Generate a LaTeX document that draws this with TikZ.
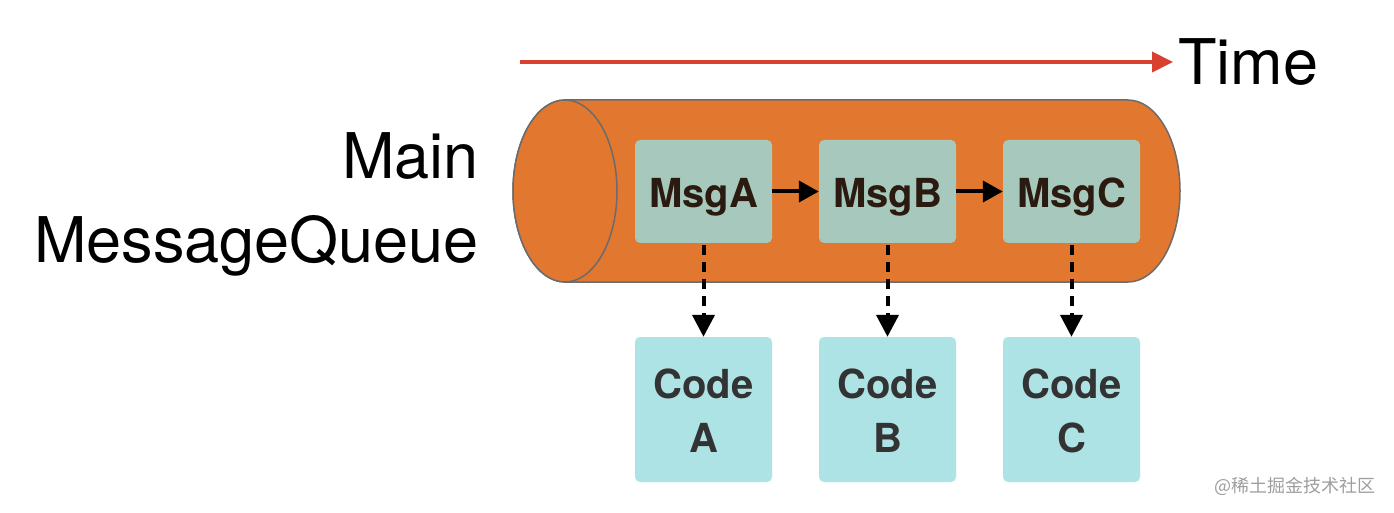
\documentclass[tikz,border=0pt]{standalone}
\usepackage{fontspec}
\setmainfont{TeX Gyre Heros}
\newfontfamily\cjkfont{Noto Sans CJK SC}
\usetikzlibrary{arrows.meta}
\definecolor{cylorange}{HTML}{E2782F}
\definecolor{cylline}{HTML}{6B6B6B}
\definecolor{msgfill}{HTML}{A7C9BD}
\definecolor{codefill}{HTML}{AEE3E6}
\definecolor{msgtext}{HTML}{2B1A10}
\definecolor{codetext}{HTML}{333333}
\definecolor{timered}{HTML}{D94030}
\tikzset{
  cyl/.style={fill=cylorange, draw=cylline, line width=1.5pt},
  msgbox/.style={fill=msgfill, rounded corners=5pt, minimum width=137pt, minimum height=103pt,
    inner sep=0pt, text=msgtext, font=\fontsize{40}{48}\selectfont\bfseries,
    text height=33pt, text depth=0pt},
  codebox/.style={fill=codefill, rounded corners=5pt, minimum width=137pt, minimum height=145pt,
    inner sep=0pt, text=codetext, font=\fontsize{40}{54}\selectfont\bfseries, align=center,
    text height=85pt, text depth=0pt},
  bigtext/.style={inner sep=0pt, font=\fontsize{63}{84}\selectfont},
  flowarrow/.style={line width=4pt, -{Triangle[length=20pt,width=21pt]}},
  callarrow/.style={line width=4pt, dash pattern=on 10pt off 7pt, -{Triangle[length=22pt,width=22pt]}},
  timearrow/.style={draw=timered, line width=4pt, -{Triangle[length=21pt,width=20pt]}, color=timered},
}
\begin{document}
\begin{tikzpicture}[x=1pt,y=1pt]
\useasboundingbox (0,0) rectangle (1394,512);
% cylinder
\path[cyl] (565,412) -- (1128,412)
  arc[start angle=90, end angle=-90, x radius=52pt, y radius=91pt]
  -- (565,230)
  arc[start angle=270, end angle=90, x radius=52pt, y radius=91pt] -- cycle;
\path[cyl] (565,321) ellipse[x radius=52pt, y radius=91pt];
% labels
\node[bigtext, anchor=base east, align=right] (mainlabel) at (479,250) {Main\\MessageQueue};
\node[bigtext, anchor=base west] (time) at (1178,427) {Time};
\coordinate (tstart) at (520,450);
\coordinate (tend) at (1173,450);
\draw[timearrow] (tstart) -- (tend);
% message boxes
\node[msgbox] (ma) at (703.5,320.5) {MsgA};
\node[msgbox] (mb) at (887.5,320.5) {MsgB};
\node[msgbox] (mc) at (1071.5,320.5) {MsgC};
\draw[flowarrow] (ma.east) -- (mb.west);
\draw[flowarrow] (mb.east) -- (mc.west);
% code boxes
\node[codebox] (ca) at (703.5,102.5) {Code\\A};
\node[codebox] (cb) at (887.5,102.5) {Code\\B};
\node[codebox] (cc) at (1071.5,102.5) {Code\\C};
\draw[callarrow] (ma.south) ++(0,-2) -- (ca.north);
\draw[callarrow] (mb.south) ++(0,-2) -- (cb.north);
\draw[callarrow] (mc.south) ++(0,-2) -- (cc.north);
% watermark
\node[inner sep=0pt, text=black!38, font=\cjkfont\fontsize{18}{20}\selectfont] (wm) at (1295,26) {@稀土掘金技术社区};
\end{tikzpicture}
\end{document}
